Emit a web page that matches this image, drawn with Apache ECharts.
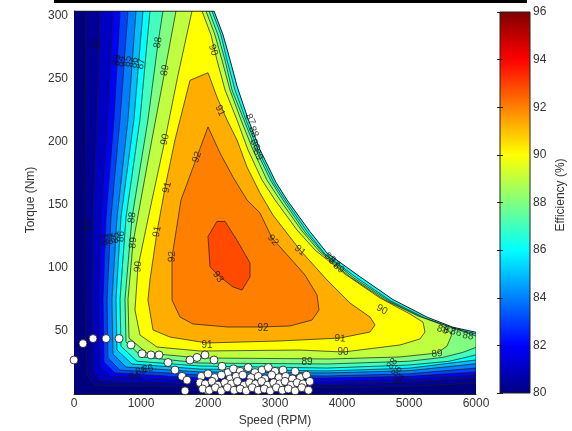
<!DOCTYPE html>
<html>
<head>
<meta charset="utf-8">
<script src="https://cdn.jsdelivr.net/npm/echarts@6/dist/echarts.min.js"></script>
<style>
  html, body { margin: 0; padding: 0; background: #fff; }
  #chart { width: 572px; height: 431px; }
</style>
</head>
<body>
<div id="chart"></div>
<script>
// efficiency levels (%) and their fill colours (jet colour map, 80..96)
const levels = [79, 80, 81, 82, 83, 84, 85, 86, 87, 88, 89, 90, 91, 92, 93];
const levelColors = ['#00007e', '#000098', '#0000c4', '#0000ff', '#0040ff', '#0080ff', '#00bfff',
  '#00ffff', '#40ffbf', '#80ff80', '#bfff40', '#ffff00', '#ffae00', '#ff8000', '#ff4a00'];

// regions where efficiency >= level, as [speed (rpm), torque (Nm)]
const regionBase = [[0, 0], [6000, 0], [6000, 304], [0, 304]];
const region80 = [[179, 304], [164, 154], [164, 75], [194, 15], [313, 7], [1881, 5.6], [3776, 4.8], [5000, 6], [6000, 8.7], [6000, 304]];
const region81 = [[388, 304], [343, 218], [284, 140], [269, 75], [284, 17.5], [388, 10.3], [1881, 7.9], [3776, 7.5], [5000, 9.5], [6000, 12.7], [6000, 304]];
const region82 = [[582, 304], [507, 218], [403, 140], [373, 75], [388, 22], [537, 14.3], [1881, 10.3], [3776, 10], [5000, 12], [6000, 15], [6000, 304]];
const region83 = [[687, 304], [597, 218], [478, 140], [433, 75], [448, 25.4], [612, 16.7], [1881, 12.7], [3776, 12.7], [5000, 14], [6000, 17.5], [6000, 304]];
const region84 = [[806, 304], [687, 218], [552, 140], [493, 75], [507, 28.6], [687, 19], [1881, 15.1], [3776, 14.3], [5000, 16], [6000, 20.6], [6000, 304]];
const region85 = [[925, 304], [806, 218], [642, 140], [567, 75], [582, 31.7], [776, 21.4], [1881, 17.5], [3776, 16.7], [5000, 18.5], [6000, 24], [6000, 304]];
const region86 = [[1030, 304], [895, 218], [701, 140], [627, 75], [642, 34.9], [866, 23.8], [1881, 19.8], [3776, 18.3], [5000, 20.5], [6000, 27], [6000, 304]];
const region87 = [[1134, 304], [985, 218], [776, 140], [687, 75], [701, 38], [940, 26], [1881, 22.2], [3776, 20.6], [5000, 23], [5600, 26], [6000, 31],
  [6000, 47.6], [5642, 52.4], [5239, 60.3], [4731, 73.8], [4224, 92], [3746, 111], [3492, 128], [3149, 154], [2985, 167.5], [2746, 193.7],
  [2567, 217.5], [2403, 241.3], [2284, 265], [2194, 285], [2060, 304]];
const region88 = [[1328, 304], [1254, 278.6], [1104, 217.5], [866, 140], [761, 75], [776, 41.3], [1015, 29.4], [1881, 24.6], [3776, 23.8], [5000, 26],
  [5500, 29], [5800, 33], [6000, 37], [6000, 46], [5612, 53.2], [5209, 60.3], [4701, 73.8], [4179, 92], [3716, 112], [3448, 128.6], [3119, 154],
  [2940, 169], [2716, 193.7], [2537, 217.5], [2358, 241.3], [2254, 265], [2149, 285], [2015, 304]];
const region89 = [[1522, 304], [1358, 257], [1134, 193.7], [881, 120], [806, 75], [821, 44.4], [1090, 32.5], [1881, 28.6], [3821, 27.8], [4866, 29.4],
  [5418, 32.5], [5567, 38], [5642, 47.6], [5463, 55.6], [5134, 62], [4642, 74.6], [4119, 93], [3672, 112.7], [3403, 129.4], [3075, 154],
  [2880, 169.8], [2672, 193.7], [2493, 217.5], [2328, 241.3], [2209, 265], [2104, 285], [1970, 304]];
const region90 = [[1761, 304], [1552, 253], [1358, 201.6], [1164, 154], [955, 100.8], [910, 66.7], [985, 46.8], [1239, 37.3], [1881, 34.1],
  [3373, 34.9], [4015, 33.3], [4866, 38.9], [5164, 43.7], [5239, 49.2], [5209, 57], [5015, 63.5], [4567, 76.2], [4045, 95.2], [3597, 114.3],
  [3328, 130.2], [3000, 154], [2806, 169.8], [2597, 193.7], [2433, 217.5], [2254, 241.3], [2134, 265], [2045, 285], [1910, 304]];
const region91 = [[1731, 249], [2000, 255], [2134, 235.7], [2284, 217.5], [2433, 201.6], [2582, 180.2], [2776, 159.5], [2970, 142], [3373, 114.3],
  [3776, 90.5], [4119, 72.2], [4418, 61.1], [4493, 54.8], [4418, 49.2], [3970, 44.4], [3075, 42.1], [1985, 40.5], [1433, 45.2], [1179, 50.8],
  [1104, 74.6], [1134, 90.5], [1239, 128.6], [1358, 163.5], [1507, 201.6]];
const region92 = [[2000, 212], [2179, 191.3], [2373, 172.2], [2582, 154], [2776, 143.7], [2955, 123.8], [3224, 107.9], [3448, 94.4], [3627, 78.6],
  [3657, 66.7], [3552, 58.7], [3224, 54], [2776, 53.2], [2284, 53.2], [1776, 55.6], [1582, 61.1], [1463, 74.6], [1463, 108.7], [1597, 154], [1806, 184]];
const region93 = [[2134, 137], [2254, 137], [2433, 122], [2627, 104], [2627, 93], [2507, 82.5], [2373, 85], [2179, 93], [2030, 101], [2000, 125]];

// maximum torque envelope
const envelopeSpeed = [0, 2090, 2225, 2330, 2435, 2600, 2775, 3015, 3180, 3520, 3775, 4270, 4760, 5270, 5655, 6000];
const envelopeTorque = [304, 304, 285, 265, 244, 218, 194, 168, 154, 129, 112, 93, 75, 61, 53, 49];

// operating points (white circles)
const operatingPoints = [
  [0, 27], [134, 40], [284, 44], [478, 44], [672, 44], [851, 39], [1015, 32], [1149, 31], [1269, 31], [1403, 25], [1507, 19],
  [1612, 14], [1687, 11], [1657, 2.5], [1731, 27], [1836, 29], [1955, 31], [2090, 27], [2209, 22], [2299, 17], [1985, 3], [2806, 19],
  [2380, 20], [2480, 18], [2600, 21], [2700, 17], [2900, 21], [3000, 18], [3120, 19], [3300, 18],
  [1900, 14], [2000, 16], [2100, 13], [2200, 15], [2330, 12], [2420, 14], [2520, 15], [2640, 13], [2750, 14], [2850, 12], [2950, 15],
  [3060, 13], [3160, 14], [3260, 12], [3380, 13], [3470, 15],
  [1880, 9], [1960, 8], [2060, 10], [2150, 7], [2250, 9], [2350, 8], [2440, 10], [2540, 7], [2620, 9], [2710, 8], [2800, 10], [2890, 7],
  [2980, 9], [3070, 8], [3150, 10], [3240, 7], [3330, 9], [3420, 8], [3520, 10],
  [1920, 4], [2020, 3], [2110, 5], [2200, 2.5], [2290, 5], [2390, 3], [2480, 4], [2570, 2.5], [2660, 5], [2750, 3], [2840, 4], [2930, 2.5],
  [3020, 5], [3110, 3], [3200, 4], [3300, 2.5], [3400, 5], [3500, 3]
];

// contour labels: text, speed, torque, rotation (deg)
const labelText = ['82', '88', '89', '90', '91', '88', '89', '90', '91', '92', '92', '90', '91', '93', '92', '92', '91', '91', '91', '90', '90', '89', '89', '81',
  '87', '88', '86', '89', '88', '87', '89', '88', '87', '86', '88', '83', '84', '85', '86', '87', '83', '84', '85', '86', '84', '85', '86', '88', '86', '84'];
const labelSpeed = [343, 1254, 1358, 1358, 1388, 866, 881, 955, 1239, 1463, 1836, 2075, 2179, 2149, 2970, 2821, 3373, 1985, 3970, 4015, 4597, 3478, 5418, 209,
  2630, 2680, 2700, 2745, 3820, 3880, 3950, 5500, 5600, 5700, 5880, 640, 700, 800, 900, 1000, 460, 540, 620, 700, 900, 1000, 1100, 4750, 4820, 4860];
const labelTorque = [278, 279, 257, 202, 164, 140, 120, 101, 129, 109, 188, 273, 225, 93, 122, 52, 114, 39, 44, 33, 67, 25, 32, 134,
  218, 208, 198, 190, 108, 104, 100, 51, 50, 49, 46, 265, 264, 264, 263, 262, 122, 123, 124, 125, 14, 18, 20, 24, 18, 12];
const labelAngle = [85, 80, 80, 78, 77, 82, 84, 84, 80, 88, 70, -72, -65, -55, -50, 0, -40, 0, -5, 0, -30, 0, 5, 88,
  -65, -65, -65, -65, -40, -40, -40, -20, -20, -15, -10, 80, 80, 80, 80, 80, 85, 85, 85, 85, 10, 10, 10, 50, 50, 50];

const fontFamily = 'Liberation Sans, Arial, sans-serif';
const regions = [regionBase, region80, region81, region82, region83, region84, region85, region86,
  region87, region88, region89, region90, region91, region92, region93];

const chart = echarts.init(document.getElementById('chart'));

const envelopeData = envelopeSpeed.map((s, i) => [s, envelopeTorque[i]]);
const maskData = envelopeData.slice(1).concat([[6000, 304]]);
const labelData = labelText.map((t, i) => ({
  name: t,
  value: [labelSpeed[i], labelTorque[i]],
  label: { rotate: labelAngle[i] }
}));

const jetStops = [
  { offset: 0, color: '#000080' }, { offset: 0.125, color: '#0000ff' }, { offset: 0.375, color: '#00ffff' },
  { offset: 0.625, color: '#ffff00' }, { offset: 0.875, color: '#ff0000' }, { offset: 1, color: '#800000' }
];

const option = {
  animation: false,
  grid: [
    { left: 74, top: 11, width: 402, height: 383, outerBoundsMode: 'none' },
    { left: 500, top: 12, width: 30, height: 381, outerBoundsMode: 'none' }
  ],
  xAxis: [
    {
      gridIndex: 0, type: 'value', min: 0, max: 6000, interval: 1000,
      axisLine: { show: true, lineStyle: { color: '#222', width: 1 } },
      axisTick: { show: false }, splitLine: { show: false },
      axisLabel: { color: '#333', fontSize: 12, margin: 4, fontFamily: fontFamily, formatter: v => String(v) }
    },
    { gridIndex: 1, type: 'value', min: 0, max: 1, show: false }
  ],
  yAxis: [
    {
      gridIndex: 0, type: 'value', min: 0, max: 304, interval: 50,
      axisLine: { show: true, lineStyle: { color: '#222', width: 1 } },
      axisTick: { show: false }, splitLine: { show: false },
      axisLabel: {
        color: '#333', fontSize: 12, margin: 6, fontFamily: fontFamily,
        // the original axis starts just above 0, so no 0 label here
        formatter: v => (v > 0 && v % 50 === 0 ? String(v) : '')
      }
    },
    {
      gridIndex: 1, type: 'value', position: 'right', min: 80, max: 96, interval: 2, z: 10,
      axisLine: { show: false }, splitLine: { show: false },
      axisTick: { show: true, inside: true, length: 3, lineStyle: { color: '#222' } },
      axisLabel: { color: '#333', fontSize: 12, margin: 3, fontFamily: fontFamily }
    },
    {
      gridIndex: 1, type: 'value', position: 'left', min: 80, max: 96, interval: 2, z: 10,
      axisLine: { show: false }, splitLine: { show: false },
      axisTick: { show: true, inside: true, length: 3, lineStyle: { color: '#222' } },
      axisLabel: { show: false }
    }
  ],
  graphic: [
    { type: 'rect', shape: { x: 54, y: 0, width: 473, height: 3 }, style: { fill: '#000' } },
    {
      type: 'rect', z: 1, shape: { x: 500, y: 12, width: 30, height: 381 },
      style: { fill: new echarts.graphic.LinearGradient(0, 1, 0, 0, jetStops), stroke: '#222', lineWidth: 1 }
    },
    {
      type: 'text', x: 275, y: 421,
      style: { text: 'Speed (RPM)', fill: '#333', font: '12px ' + fontFamily, textAlign: 'center', textVerticalAlign: 'middle' }
    },
    {
      type: 'text', x: 31, y: 200, rotation: Math.PI / 2,
      style: { text: 'Torque (Nm)', fill: '#333', font: '12px ' + fontFamily, textAlign: 'center', textVerticalAlign: 'middle' }
    },
    {
      type: 'text', x: 561, y: 195, rotation: Math.PI / 2,
      style: { text: 'Efficiency (%)', fill: '#333', font: '12px ' + fontFamily, textAlign: 'center', textVerticalAlign: 'middle' }
    }
  ],
  series: [
    {
      // filled contour regions, lowest level first
      type: 'custom', xAxisIndex: 0, yAxisIndex: 0, z: 1, clip: true,
      data: regions.map((r, i) => [i]),
      renderItem: (params, api) => {
        const idx = api.value(0);
        return {
          type: 'polygon',
          shape: { points: regions[idx].map(p => api.coord(p)) },
          style: { fill: levelColors[idx], stroke: idx === 0 ? null : '#1a1a1a', lineWidth: 0.7 }
        };
      }
    },
    {
      // no data above the torque envelope
      type: 'custom', xAxisIndex: 0, yAxisIndex: 0, z: 2, clip: true,
      data: [[0]],
      renderItem: (params, api) => ({
        type: 'polygon',
        shape: { points: maskData.map(p => api.coord(p)) },
        style: { fill: '#fff' }
      })
    },
    {
      type: 'line', xAxisIndex: 0, yAxisIndex: 0, z: 3,
      data: envelopeData, symbol: 'none',
      lineStyle: { color: '#1a1a1a', width: 1 }
    },
    {
      type: 'scatter', xAxisIndex: 0, yAxisIndex: 0, z: 4,
      data: labelData, symbol: 'circle', symbolSize: 0,
      label: { show: true, position: 'inside', formatter: '{b}', color: '#111', fontSize: 10, fontFamily: fontFamily }
    },
    {
      type: 'scatter', xAxisIndex: 0, yAxisIndex: 0, z: 5, clip: false,
      data: operatingPoints, symbol: 'circle', symbolSize: 8,
      itemStyle: { color: '#ffffff', opacity: 1, borderColor: '#111', borderWidth: 0.8 }
    }
  ]
};

chart.setOption(option);
</script>
</body>
</html>
